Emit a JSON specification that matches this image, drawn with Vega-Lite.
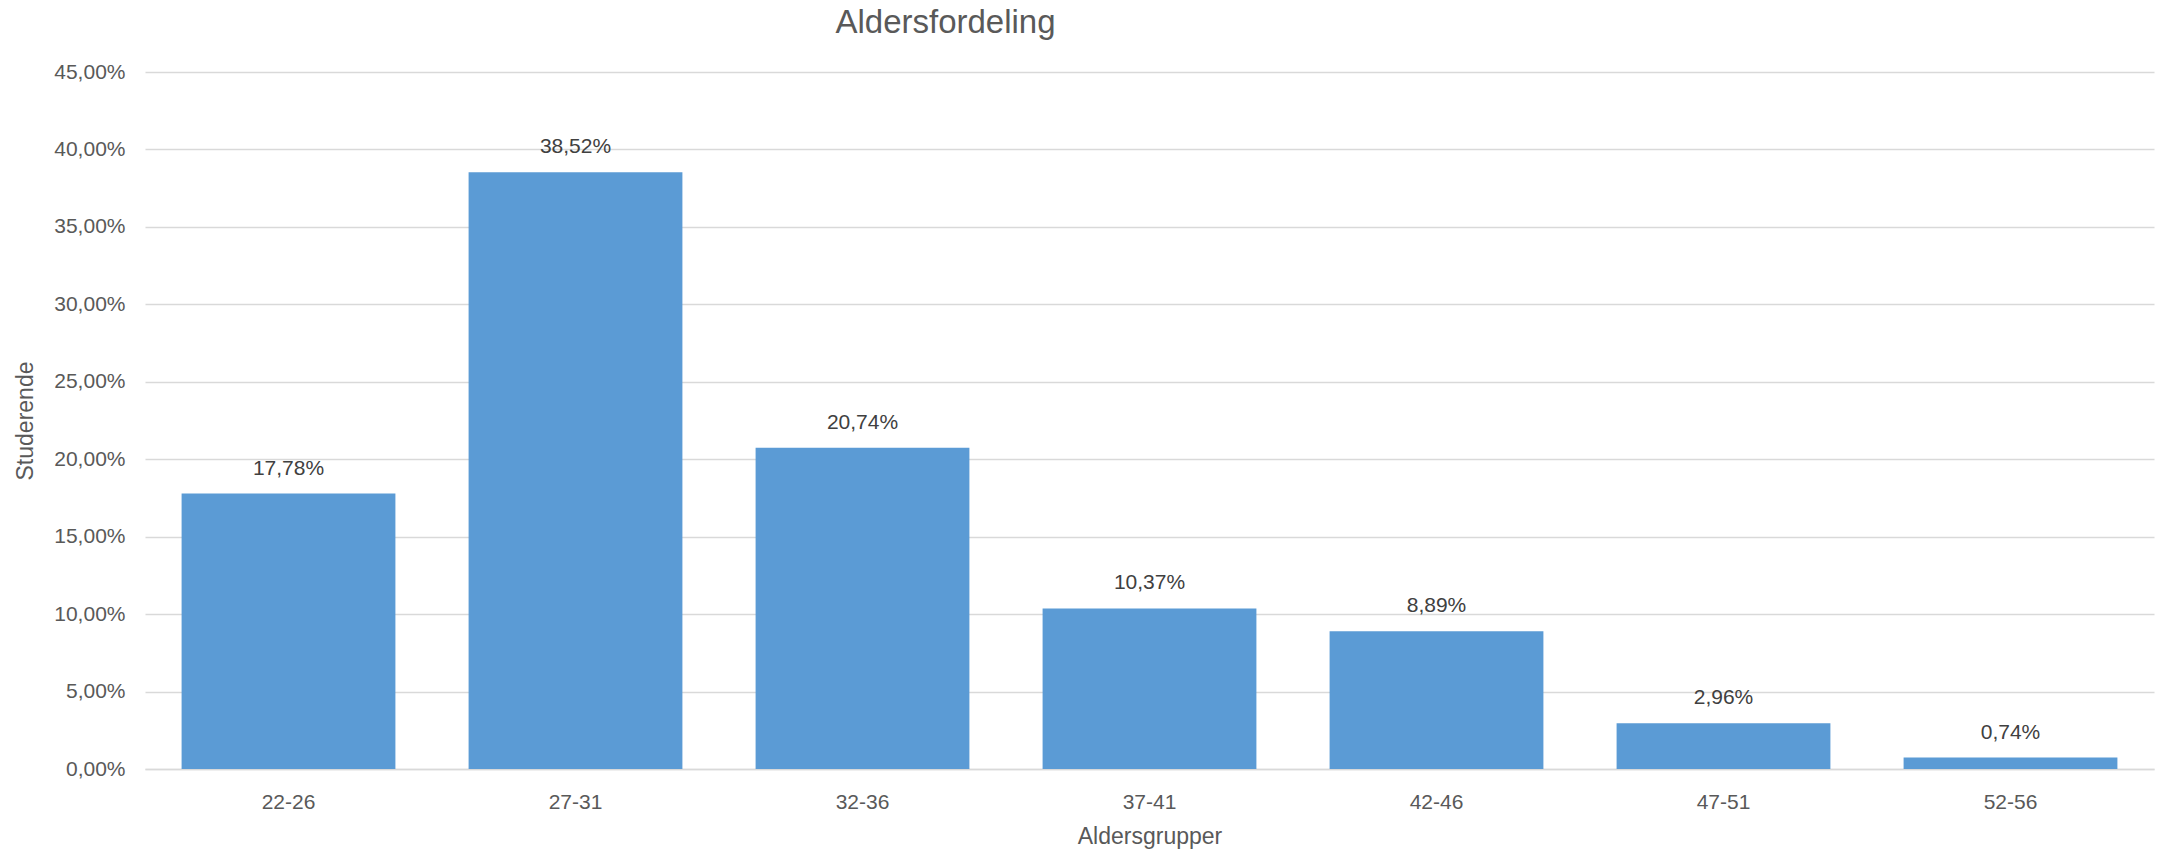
{
  "$schema": "https://vega.github.io/schema/vega-lite/v6.json",
  "autosize": "none",
  "padding": {"left": 145, "top": 72, "right": 10, "bottom": 82},
  "width": 2009,
  "height": 697,
  "background": "white",
  "config": {
    "locale": {"number": {"decimal": ",", "thousands": ".", "grouping": [3], "currency": ["", " kr."]}},
    "font": "Liberation Sans",
    "view": {"stroke": null}
  },
  "title": {
    "text": "Aldersfordeling",
    "fontSize": 33,
    "fontWeight": "normal",
    "color": "#595959",
    "anchor": "middle",
    "dx": -204,
    "offset": 21
  },
  "data": {
    "values": [
      {"gruppe": "22-26", "andel": 0.1778},
      {"gruppe": "27-31", "andel": 0.3852},
      {"gruppe": "32-36", "andel": 0.2074},
      {"gruppe": "37-41", "andel": 0.1037},
      {"gruppe": "42-46", "andel": 0.0889},
      {"gruppe": "47-51", "andel": 0.0296},
      {"gruppe": "52-56", "andel": 0.0074}
    ]
  },
  "encoding": {
    "x": {
      "field": "gruppe",
      "type": "nominal",
      "sort": null,
      "scale": {"paddingInner": 0.255, "paddingOuter": 0.1275},
      "axis": {
        "title": "Aldersgrupper",
        "labelAngle": 0,
        "labelFontSize": 21,
        "labelColor": "#595959",
        "labelPadding": 22,
        "titleFontSize": 23,
        "titleFontWeight": "normal",
        "titleColor": "#595959",
        "titlePadding": 13,
        "ticks": false,
        "domain": true,
        "domainColor": "#D9D9D9",
        "domainWidth": 1.5
      }
    },
    "y": {
      "field": "andel",
      "type": "quantitative",
      "scale": {"domain": [0, 0.45]},
      "axis": {
        "title": "Studerende",
        "values": [0, 0.05, 0.1, 0.15, 0.2, 0.25, 0.3, 0.35, 0.4, 0.45],
        "format": ".2%",
        "labelFontSize": 21,
        "labelColor": "#595959",
        "labelPadding": 20,
        "titleFontSize": 23,
        "titleFontWeight": "normal",
        "titleColor": "#595959",
        "titlePadding": 16,
        "ticks": false,
        "domain": false,
        "grid": true,
        "gridColor": "#D9D9D9",
        "gridWidth": 1.5
      }
    }
  },
  "layer": [
    {"mark": {"type": "bar", "color": "#5B9BD5"}},
    {
      "mark": {"type": "text", "baseline": "alphabetic", "dy": -19, "fontSize": 21, "color": "#404040"},
      "encoding": {"text": {"field": "andel", "type": "quantitative", "format": ".2%"}}
    }
  ]
}
